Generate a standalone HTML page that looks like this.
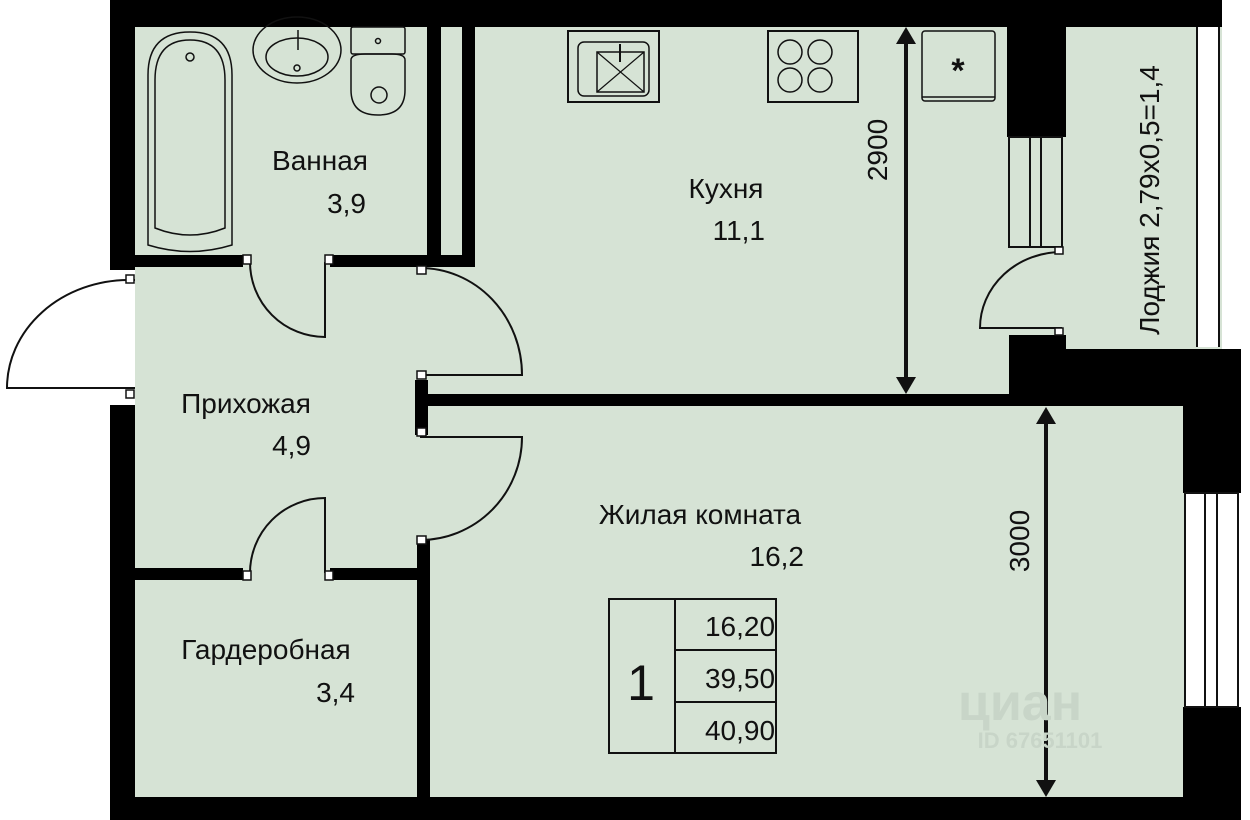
<!DOCTYPE html>
<html><head><meta charset="utf-8"><style>
html,body{margin:0;padding:0;background:#fff}
svg{display:block}
text{font-family:"Liberation Sans Narrow","Liberation Sans",sans-serif;fill:#111}
</style></head><body>
<svg width="1250" height="820" viewBox="0 0 1250 820" xmlns="http://www.w3.org/2000/svg">
<!-- floors -->
<rect x="135" y="27" width="1050" height="770" fill="#d6e3d5"/>
<rect x="1062" y="27" width="160" height="322" fill="#d6e3d5"/>
<rect x="1197" y="27" width="22" height="320" fill="#fff"/>
<line x1="1197" y1="27" x2="1197" y2="347" stroke="#111" stroke-width="2"/>
<line x1="1219" y1="27" x2="1219" y2="347" stroke="#111" stroke-width="2"/>
<rect x="0" y="270" width="135" height="130" fill="#fff"/>
<g fill="#000">
<!-- outer walls -->
<rect x="110" y="0" width="1112" height="27"/>
<rect x="110" y="0" width="25" height="270"/>
<rect x="110" y="405" width="25" height="415"/>
<rect x="110" y="797" width="1131" height="23"/>
<rect x="1183" y="349" width="58" height="144"/>
<rect x="1183" y="707" width="58" height="113"/>
<!-- kitchen/loggia -->
<rect x="1007" y="27" width="59" height="110"/>
<rect x="1009" y="335" width="57" height="60"/>
<rect x="1009" y="349" width="232" height="46"/>
<rect x="420" y="394" width="763" height="12"/>
<!-- bath walls -->
<rect x="427" y="27" width="14" height="240"/>
<rect x="462" y="27" width="13" height="240"/>
<rect x="135" y="255" width="108" height="12"/>
<rect x="330" y="255" width="145" height="12"/>
<rect x="415" y="380" width="13" height="55"/>
<!-- wardrobe -->
<rect x="135" y="568" width="108" height="12"/>
<rect x="330" y="568" width="90" height="12"/>
<rect x="417" y="540" width="13" height="257"/>
</g>
<!-- windows -->
<rect x="1185" y="493" width="53" height="214" fill="#fff" stroke="#111" stroke-width="2"/>
<line x1="1205" y1="493" x2="1205" y2="707" stroke="#111" stroke-width="2"/>
<line x1="1217" y1="493" x2="1217" y2="707" stroke="#111" stroke-width="2"/>
<rect x="1009" y="137" width="53" height="110" fill="#d6e3d5" stroke="#111" stroke-width="2"/>
<line x1="1030" y1="137" x2="1030" y2="247" stroke="#111" stroke-width="2"/>
<line x1="1041" y1="137" x2="1041" y2="247" stroke="#111" stroke-width="2"/>
<!-- doors -->
<g fill="none" stroke="#111" stroke-width="2">
<path d="M135 280 L128 280 A122 108 0 0 0 7 388 L135 388"/>
<path d="M250 262 A75 75 0 0 0 325 337 L325 262"/>
<path d="M420 268 A102 107 0 0 1 522 375 L420 375"/>
<path d="M420 540 A102 103 0 0 0 522 437 L420 437"/>
<path d="M250 573 A75 75 0 0 1 325 498 L325 573"/>
<path d="M1062 252 A82 76 0 0 0 980 328 L1062 328"/>
</g>
<g fill="#fff" stroke="#111" stroke-width="1.5">
<rect x="126" y="275" width="8" height="8"/><rect x="126" y="390" width="8" height="8"/>
<rect x="243" y="255" width="8" height="9"/><rect x="325" y="255" width="8" height="9"/>
<rect x="417" y="266" width="9" height="8"/><rect x="417" y="371" width="9" height="8"/>
<rect x="417" y="428" width="9" height="8"/><rect x="417" y="536" width="9" height="8"/>
<rect x="243" y="571" width="8" height="9"/><rect x="325" y="571" width="8" height="9"/>
<rect x="1055" y="247" width="8" height="7"/><rect x="1055" y="328" width="8" height="7"/>
</g>
<!-- bath fixtures -->
<g fill="none" stroke="#111" stroke-width="1.5">
<path d="M148 245 L148 75 Q148 32 190 32 Q232 32 232 75 L232 245 Q190 258 148 245Z"/>
<path d="M155 228 L155 80 Q155 40 190 40 Q225 40 225 80 L225 228 Q190 242 155 228Z"/>
<circle cx="190" cy="57" r="4"/>
<ellipse cx="297" cy="50" rx="44" ry="33"/>
<ellipse cx="297" cy="57" rx="31" ry="19"/>
<circle cx="297" cy="68" r="3"/>
<line x1="298" y1="30" x2="298" y2="50"/>
<rect x="351" y="27" width="54" height="27" rx="2"/>
<circle cx="378" cy="41" r="2.5"/>
<path d="M351 60 Q351 54 365 54 L392 54 Q405 54 405 60 L405 90 Q405 115 378 115 Q351 115 351 90Z"/>
<circle cx="379" cy="95" r="8"/>
</g>
<!-- kitchen fixtures -->
<g fill="none" stroke="#111" stroke-width="2">
<rect x="568" y="31" width="91" height="71"/>
<rect x="578" y="42" width="71" height="54" rx="6" stroke-width="1.5"/>
<rect x="597" y="52" width="47" height="40" stroke-width="1.5"/>
<path d="M597 52 L644 92 M644 52 L597 92" stroke-width="1.2"/>
<line x1="620" y1="44" x2="620" y2="62"/>
<rect x="768" y="31" width="90" height="71"/>
<circle cx="790" cy="52" r="12" stroke-width="1.5"/><circle cx="820" cy="52" r="12" stroke-width="1.5"/>
<circle cx="790" cy="80" r="12" stroke-width="1.5"/><circle cx="820" cy="80" r="12" stroke-width="1.5"/>
<rect x="922" y="31" width="73" height="70" rx="3" stroke-width="1.5"/>
<line x1="922" y1="97" x2="995" y2="97" stroke-width="1.5"/>
</g>
<text x="958" y="82" font-size="34" text-anchor="middle" font-weight="bold">*</text>
<!-- dimension arrows -->
<g stroke="#111" stroke-width="4"><line x1="906" y1="40" x2="906" y2="382"/><line x1="1046" y1="420" x2="1046" y2="785"/></g>
<g fill="#111">
<path d="M896 44 L906 27 L916 44Z"/><path d="M896 377 L906 394 L916 377Z"/>
<path d="M1036 424 L1046 407 L1056 424Z"/><path d="M1036 780 L1046 797 L1056 780Z"/>
</g>
<!-- labels -->
<g font-size="28">
<text x="320" y="170" text-anchor="middle">Ванная</text>
<text x="366" y="213" text-anchor="end">3,9</text>
<text x="726" y="198" text-anchor="middle">Кухня</text>
<text x="765" y="240" text-anchor="end">11,1</text>
<text x="246" y="413" text-anchor="middle">Прихожая</text>
<text x="311" y="455" text-anchor="end">4,9</text>
<text x="266" y="659" text-anchor="middle">Гардеробная</text>
<text x="355" y="702" text-anchor="end">3,4</text>
<text x="700" y="524" text-anchor="middle">Жилая комната</text>
<text x="804" y="566" text-anchor="end">16,2</text>
<text transform="translate(887,150) rotate(-90)" text-anchor="middle">2900</text>
<text transform="translate(1029,541) rotate(-90)" text-anchor="middle">3000</text>
<text transform="translate(1159,200) rotate(-90)" text-anchor="middle">Лоджия 2,79х0,5=1,4</text>
</g>
<!-- table -->
<g fill="none" stroke="#111" stroke-width="2">
<rect x="609" y="599" width="167" height="154"/>
<line x1="675" y1="599" x2="675" y2="753"/>
<line x1="675" y1="650" x2="776" y2="650"/>
<line x1="675" y1="702" x2="776" y2="702"/>
</g>
<text x="641" y="700" font-size="50" text-anchor="middle">1</text>
<g font-size="28" text-anchor="middle">
<text x="740" y="636">16,20</text>
<text x="740" y="688">39,50</text>
<text x="740" y="740">40,90</text>
</g>
<text x="1020" y="720" font-size="52" fill="#c9d6c9" style="fill:#c8d5c8" text-anchor="middle" font-weight="bold">циан</text>
<text x="1040" y="748" font-size="22" style="fill:#c8d5c8" text-anchor="middle" font-weight="bold">ID 67651101</text>
</svg>
</body></html>
